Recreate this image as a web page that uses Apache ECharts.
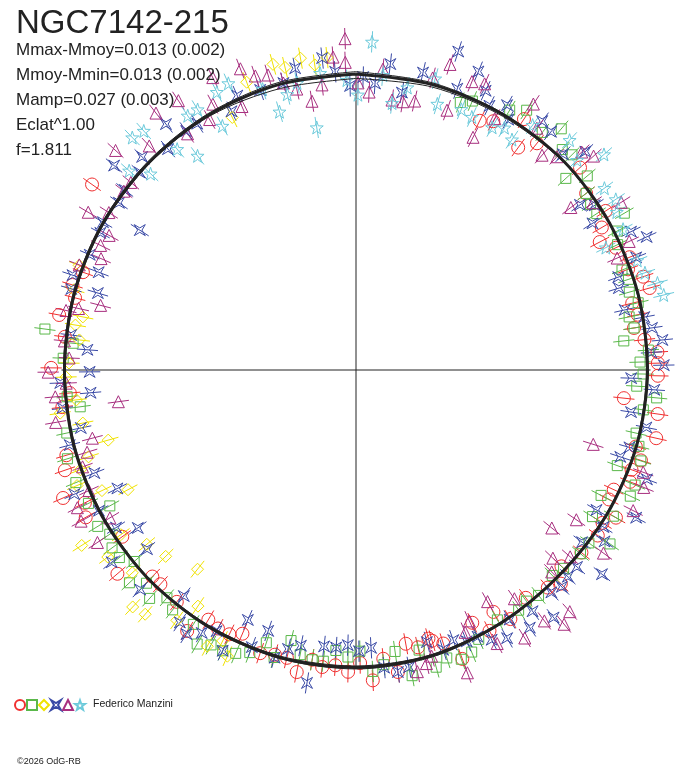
<!DOCTYPE html>
<html>
<head>
<meta charset="utf-8">
<title>NGC7142-215</title>
<script src="https://cdn.jsdelivr.net/npm/echarts/dist/echarts.min.js"></script>
<style>
  html, body { margin: 0; padding: 0; background: #fff; }
  #main { width: 688px; height: 768px; }
</style>
</head>
<body>
<div id="main"></div>
<script>
// points: [phase in degrees (clockwise from top), radius (1 = fit circle)]
const red = [
  [26.4,.94],[28.9,.96],[33.8,1.02],[36.1,.93],[38.6,.98],[47.9,1.02],[52.5,.98],[57.5,1.0],[59.9,.96],[62.3,.93],[64.8,.97],[67.6,1.0],[69.7,.98],[72,1.02],[74.4,1.03],
  [76.4,.96],[78.9,.97],[81.4,.95],[84,.98],[86.6,1.02],[88.7,1.02],[91.1,1.02],[96,.91],[98.3,1.03],[102.8,1.04],[105.3,.98],
  [107.6,1.01],[109.9,.99],[112.2,1.0],[114.9,.96],[117.1,.96],[119.6,1.01],[121.8,.98],[124.4,.99],[129,.98],[133.7,.96],[136.2,1.0],[138.6,.98],[143.3,.96],[148.2,.99],[150.4,.94],[152.9,.99],[155.3,.94],[159.8,1.04],[162.3,.97],[164.3,.95],
  [164.9,.94],[167.4,.96],[169.7,.94],[172.1,1.03],[174.6,.98],[176.9,1.05],[179.2,.99],[181.5,1.02],[184,1.0],[186.5,1.01],[188.6,.99],[191.1,1.04],[193.5,1.0],
  [195.9,1.0],[198.7,1.01],[203.3,.97],[205.6,.99],[208.1,.99],[210.6,.98],[212.9,1.05],[217.7,.99],[222.4,.98],[224.6,.98],[229.5,1.06],[234.5,.97],[241.4,1.04],[243.9,1.02],[246.4,1.08],[251,1.04],[253.6,1.02],
  [262.8,1.0],[265.4,.97],[270.4,1.03],[276.5,.99],[280.5,1.02],[284.4,.98],[286.7,1.0],[289.7,.98],[305.1,1.09]
];
const green = [
  [21.3,.97],[23.4,.99],[30.6,1.02],[33.3,1.05],[38.1,1.02],[40.4,1.07],[43.1,1.02],[45.1,1.03],[47.6,.96],[50,1.02],[52.5,.98],[54.8,.97],[57,.97],[59.7,1.05],[62,1.0],[64.4,.98],[69.4,.96],[71.6,.97],[74.1,.96],
  [76.6,.98],[79,.94],[81.4,.95],[83.8,.91],[86.1,.99],[88.4,.96],[90.8,.97],[93.3,.95],[95.3,1.02],[97.9,.98],[102.7,.97],[105.1,.99],
  [107.7,1.01],[110.1,.94],[112.4,1.02],[114.7,1.02],[117.1,.93],[119.6,1.0],[121.8,.94],[124.4,1.04],[126.6,.98],[129.3,.98],[133.7,.97],[136.3,.96],[141,.98],[143.6,.97],[145.9,.98],[150.5,.97],[155.5,1.0],[157.7,1.03],[160,1.04],[162.5,1.02],[164.9,1.04],
  [167.3,.97],[169.6,1.05],[172.1,.96],[174.6,1.0],[176.8,1.02],[179.2,.95],[181.6,.97],[184.1,.95],[186.4,.99],[188.6,.99],[191.1,.98],[193.5,.94],
  [195.9,1.01],[198.2,.97],[200.6,1.02],[203,1.04],[205.4,1.05],[207.8,1.05],[210.1,1.07],[212.6,1.02],[217.4,1.02],[219.7,1.0],[222.1,1.04],[224.5,1.01],[226.8,1.05],[229.2,.99],[231.6,1.02],[233.9,1.02],[236.3,1.0],[238.8,1.02],[241.1,.95],[243.5,1.01],[248.1,1.02],[252.9,1.02],[257.7,1.0],
  [262.4,.94],[264.7,.98],[272.3,.99],[275.4,.96],[277.5,1.06]
];
const yellow = [
  [204.2,1.06],[206.2,1.02],[208.3,1.06],[213.8,.96],[215.6,1.04],[218.5,.86],[220.8,1.09],[223.3,1.10],[225.6,.90],[227.8,1.02],[230.2,.92],[233,1.05],[235,.97],[237.4,1.10],
  [242.3,.87],[244.6,.95],[247.5,1.02],[250.1,.99],[252,.95],[254.2,.87],[259,.94],[261.7,1.01],[263.9,.95],[268.6,.98],[271.4,.97],[276.2,.94],[279.1,.96],[281,.94],[285.9,.99],[290.7,1.0],
  [333.9,.95],[339.2,1.04],[344.8,1.07],[346.8,1.05],[349.9,1.07],[352.3,1.04],[354.7,1.06]
];
const blue = [
  [1.4,.99],[3.8,.97],[6.4,1.04],[9.4,.95],[12.7,1.03],[17.8,1.13],[19.8,1.01],[22.3,1.09],[24.9,1.04],[26.8,1.0],[29.7,1.03],[31.3,.99],[36.8,1.05],[39.3,1.04],[43.8,1.01],[46.4,1.07],[53.6,.94],[55.4,.98],[58.2,.94],[63.3,1.04],[65.4,1.08],[68.1,1.02],[70.5,.94],[72.7,.93],
  [77.4,.93],[79.6,.99],[81.9,1.01],[84.4,1.04],[86.6,1.0],[89.1,1.04],[91.7,.93],[93.8,1.01],[98.7,.94],[101.2,1.0],[105.8,.96],
  [108.2,.94],[110.6,1.05],[117.8,1.07],[120.2,.94],[122.4,.99],[124.6,1.02],[127.3,.96],[129.7,1.08],[131.7,1.0],[134.3,1.0],[136.5,1.01],[138.7,1.0],[141.4,1.07],[143.8,1.01],[146,1.05],[148.4,.99],[150.6,1.04],[153.3,1.02],[155.5,.99],[157.8,.99],[160.2,.97],[162.7,.99],
  [165.4,.95],[169.9,1.02],[172.1,1.03],[174.6,1.01],[176.9,.94],[179.4,.95],[181.7,.93],[184.1,.94],[186.6,.94],[188.9,1.07],[191.3,.95],[193.7,.97],
  [195.8,1.01],[198.6,.93],[200.6,1.0],[203.4,.92],[205.4,1.05],[208.1,1.0],[210.4,1.03],[212.7,1.06],[214.9,1.04],[217.3,.96],[224.5,1.04],[229.4,.93],[231.8,1.05],[234.1,.91],[236.7,.97],[241.3,.99],[243.6,.90],[246.2,1.04],[248.5,.95],[255.3,1.0],[258.1,.95],
  [262.6,1.0],[265.1,.90],[267.5,1.0],[269.6,.90],[274.3,.91],[277,.97],[285.9,1.0],[286.6,.91],[288.5,1.01],[290.8,.93],[293.4,.98],[298.2,.98],[300.3,.99],[302.9,.87],[305.2,.98],[307.9,.99],
  [310.2,1.07],[312.4,.99],[314.9,1.02],[319.6,.98],[322.3,1.05],[324.6,.99],[327.2,.99],[334.3,.97],[336.6,1.01],[341.1,1.0],[345.8,1.0],[348.6,1.04],[353.8,1.06],[356,1.01],[358.8,.96]
];
const magenta = [
  [0.4,.97],[2.7,.94],[5.1,1.02],[7.6,.92],[9.9,.92],[12.3,.93],[14.7,1.02],[17.1,1.08],[19.3,.93],[21.9,1.05],[24.2,1.06],[26.7,.88],[28.9,.97],[33.7,1.08],[36.8,1.02],[40.9,.96],[43.3,.99],[46,1.06],[48,1.08],[52.9,.91],[54.8,.98],[57.7,1.06],[64.8,1.02],[66.8,.96],
  [107.4,.84],[109.6,1.03],[112.2,1.05],[116.9,1.05],[124.2,.90],[126.5,1.04],[128.9,.85],[131.1,.96],[133.7,.92],[135.9,.95],[138.5,1.09],[140.7,1.11],[143.1,1.06],[145.3,.94],[147.8,1.07],[150.4,.90],[152.7,1.04],[155.7,.93],[157.4,.96],[159.8,1.09],[165.2,1.0],[166.5,1.02],[168.5,1.04],
  [236.3,1.05],[239,.97],[241.2,1.06],[243.7,1.05],[245.7,.99],[250.5,.98],[253,.95],[255.5,.92],[260.1,1.03],[262.4,.81],[264.9,1.02],[267.4,.98],[269.6,1.04],[272.4,.97],[275.7,.99],[281.6,1.0],[282.5,.96],[284.2,.89],
  [290.8,1.0],[293.6,.94],[296,.96],[298.6,.95],[300.5,1.05],[302.5,.99],[307.6,.99],[309.8,.99],[312.4,1.1],[317.3,1.03],[322.1,1.1],[324.5,.98],[326.6,1.09],[329.7,.98],[331.7,1.02],[333.9,1.1],[336.6,.97],[339,1.09],[341.1,1.05],[343.4,1.04],[345.8,1.0],[348.1,.97],[350.7,.92],[353.2,.97],[355.8,1.06],[358,1.04],[358.1,1.12]
];
const cyan = [
  [0.4,.93],[2.8,1.11],[5.2,1.0],[7.7,.91],[10.3,.97],[15.2,1.02],[17,.94],[22,.95],[24.6,.94],[29.3,.94],[31.5,.96],[34.1,.94],[35.8,1.02],[42.9,1.06],[46.5,1.03],[49,1.11],[53.8,1.04],[56.7,1.05],[58.8,1.03],[62.2,1.02],[63.9,.94],[68.7,1.02],[71.4,1.03],[73.9,1.06],[76.3,1.07],
  [311.3,1.02],[313.7,.96],[316.1,1.09],[318.4,1.08],[321,.96],[323.5,.90],[326.5,1.03],[328.7,1.03],[331.3,.94],[333.4,1.05],[336,1.06],[341.6,1.0],[343.5,.91],[346,.96],[348.4,.99],[350.8,.83],[353.1,1.01],[358.2,.98]
];

// fitted light curves, radius every 15 degrees of phase
const fitPhase = [0,15,30,45,60,75,90,105,120,135,150,165,180,195,210,225,240,255,270,285,300,315,330,345,360];
const fitA = [1.0,.998,.996,.995,.99,.987,.985,.982,.978,.976,.985,.998,1.005,1.005,1.0,.995,.99,.987,.985,.986,.988,.99,.995,.999,1.0];
const fitB = [1.008,1.004,.999,.996,.99,.986,.984,.983,.98,.978,.988,1.003,1.01,1.008,1.003,.997,.991,.988,.988,.99,.992,.995,1.0,1.006,1.008];
const fitC = [.985,.99,.99,.992,.988,.984,.981,.979,.975,.973,.982,.995,1.0,1.0,.996,.992,.986,.983,.982,.983,.985,.987,.99,.985,.985];

const infoLines = ['Mmax-Mmoy=0.013 (0.002)', 'Mmoy-Mmin=0.013 (0.002)', 'Mamp=0.027 (0.003)', 'Eclat^1.00', 'f=1.811'];

const STAR4 = 'path://M-10,-10 L0,-4 L10,-10 L4,0 L10,10 L0,4 L-10,10 L-4,0 Z';
const STAR5 = 'path://M0,-10 L2.35,-3.24 L9.51,-3.09 L3.8,1.24 L5.88,8.09 L0,4 L-5.88,8.09 L-3.8,1.24 L-9.51,-3.09 L-2.35,-3.24 Z';
const ERR = 0.036;

const groups = [
  { name: 'red', data: red, color: '#f03030', symbol: 'circle', size: 13 },
  { name: 'green', data: green, color: '#5ab84a', symbol: 'rect', size: 10 },
  { name: 'yellow', data: yellow, color: '#f0e200', symbol: 'diamond', size: 12 },
  { name: 'blue', data: blue, color: '#3a4aa6', symbol: STAR4, size: 11 },
  { name: 'magenta', data: magenta, color: '#a82f7f', symbol: 'triangle', size: 12 },
  { name: 'cyan', data: cyan, color: '#6ccadb', symbol: STAR5, size: 13 }
];

const toPolar = arr => arr.map(p => [p[1], p[0]]);
const fitLine = vals => vals.map((r, i) => [r, fitPhase[i]]);

let series = [];
groups.forEach(g => {
  // radial error bars
  series.push({
    type: 'custom',
    coordinateSystem: 'polar',
    silent: true,
    z: 2,
    data: toPolar(g.data),
    renderItem: function (params, api) {
      let r = api.value(0), a = api.value(1);
      let p1 = api.coord([r - ERR, a]);
      let p2 = api.coord([r + ERR, a]);
      return {
        type: 'line',
        shape: { x1: p1[0], y1: p1[1], x2: p2[0], y2: p2[1] },
        style: { stroke: g.color, lineWidth: 1 }
      };
    }
  });
  series.push({
    name: g.name,
    type: 'scatter',
    coordinateSystem: 'polar',
    symbol: g.symbol,
    symbolSize: g.size,
    z: 3,
    itemStyle: { color: 'rgba(0,0,0,0)', borderColor: g.color, borderWidth: 1, opacity: 1 },
    data: toPolar(g.data)
  });
});

// axis cross
series.push({
  type: 'line', coordinateSystem: 'polar', symbol: 'none', silent: true, z: 1,
  lineStyle: { color: '#222', width: 1 },
  data: [[1.0, 0], [0, 0], [1.0, 180]]
});
series.push({
  type: 'line', coordinateSystem: 'polar', symbol: 'none', silent: true, z: 1,
  lineStyle: { color: '#222', width: 1 },
  data: [[0.995, 90], [0, 0], [0.995, 270]]
});
// fitted curves
[[fitA, 3], [fitB, 1], [fitC, 1]].forEach(f => {
  series.push({
    type: 'line', coordinateSystem: 'polar', symbol: 'none', silent: true, z: 4,
    smooth: 0.3,
    lineStyle: { color: '#222', width: f[1] },
    data: fitLine(f[0])
  });
});

let myChart = echarts.init(document.getElementById('main'), null, { renderer: 'canvas' });
myChart.setOption({
  backgroundColor: '#fff',
  animation: false,
  title: [{
    text: 'NGC7142-215',
    left: 16, top: 6, padding: 0,
    textStyle: { fontFamily: 'Liberation Sans', fontSize: 33, fontWeight: 'normal', color: '#222', lineHeight: 36 }
  }, {
    text: infoLines.join('\n'),
    left: 16, top: 38, padding: 0,
    textStyle: { fontFamily: 'Liberation Sans', fontSize: 17, fontWeight: 'normal', color: '#222', lineHeight: 25 }
  }],
  legend: {
    data: groups.map(g => g.name),
    left: 14, top: 699, padding: 0,
    itemWidth: 10, itemHeight: 10, itemGap: 0,
    formatter: () => '',
    textStyle: { fontSize: 1, padding: 0 },
    selectedMode: false
  },
  graphic: [{
    type: 'text', left: 93, top: 699,
    style: { text: 'Federico Manzini', font: '10.5px "Liberation Sans"', fill: '#222' }
  }, {
    type: 'text', left: 17, top: 757,
    style: { text: '©2026 OdG-RB', font: '9px "Liberation Sans"', fill: '#222' }
  }],
  polar: { center: [356, 370], radius: 370 },
  angleAxis: {
    type: 'value', min: 0, max: 360, startAngle: 90, clockwise: true,
    show: false, splitLine: { show: false }
  },
  radiusAxis: {
    type: 'value', min: 0, max: 1.25,
    show: false, splitLine: { show: false }
  },
  series: series
});
</script>
</body>
</html>
